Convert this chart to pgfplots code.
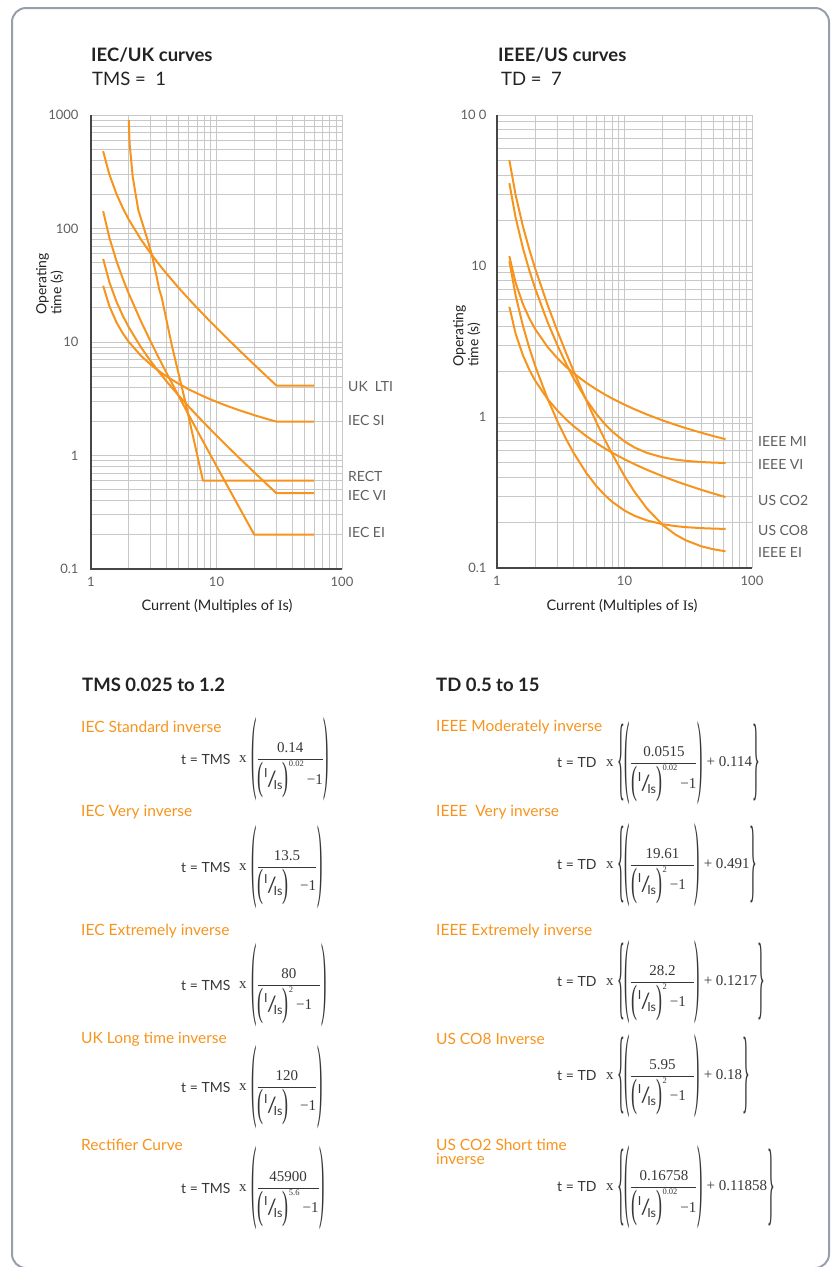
\documentclass[border=0pt]{standalone}
\usepackage{amsmath}
\usepackage{graphicx}
\usepackage{fontspec}
\setmainfont{Lato}
\newfontfamily\tnr{Liberation Serif}
\usepackage{pgfplots}
\pgfplotsset{compat=1.18}

\definecolor{ora}{RGB}{247,148,30}
\definecolor{framec}{RGB}{150,160,172}
\definecolor{gridc}{RGB}{200,200,200}
\definecolor{axisc}{RGB}{70,70,70}
\definecolor{tickc}{RGB}{95,95,95}
\definecolor{darkt}{RGB}{35,35,35}
\definecolor{fc}{RGB}{55,55,55}

\tikzset{crv/.style={draw=ora, line width=2pt, line join=round, mark=none}}

\newcommand{\fs}[1]{\fontsize{#1}{#1}\selectfont}
\newcommand{\lp}[1]{\vcenter{\hbox{\scalebox{1}[#1]{\tnr\fs{16}(}}}}
\newcommand{\rp}[1]{\vcenter{\hbox{\scalebox{1}[#1]{\tnr\fs{16})}}}}
\newcommand{\lpi}{\vcenter{\hbox{\scalebox{1}[2.2]{\tnr\fs{18}(}}}}
\newcommand{\rpi}{\vcenter{\hbox{\scalebox{1}[2.2]{\tnr\fs{18})}}}}
\newcommand{\lb}[1]{\vcenter{\hbox{\scalebox{1}[#1]{\tnr\fs{16}\{}}}}
\newcommand{\rb}[1]{\vcenter{\hbox{\scalebox{1}[#1]{\tnr\fs{16}\}}}}}
\newcommand{\IIs}{\text{\fs{12.5}\kern0.5pt\raisebox{7pt}{I}\kern-0.5pt\raisebox{-2pt}{\fs{21}/}\kern-3pt\raisebox{-5pt}{Is}\kern0.5pt}}
\newcommand{\den}[1]{\lpi\IIs{\rpi}^{\text{\tnr\fs{8.5}#1}}\text{\tnr\fs{15}\,−1}}
\newcommand{\denz}{\lpi\IIs\rpi\text{\tnr\fs{15}\ \ \ −1}}
\newcommand{\F}[2]{\dfrac{\text{\tnr\fs{15}#1}}{#2}}
\newcommand{\OP}[1]{\lp{5.8}#1\rp{5.8}}
\newcommand{\BR}[2]{\lb{5.8}\OP{#1}\text{\tnr\fs{15}\ + #2}\rb{5.8}}

\begin{document}
\begin{tikzpicture}
\useasboundingbox (0pt,0pt) rectangle (834pt,-1267pt);
\draw[framec, line width=2pt, rounded corners=14pt] (12pt,-8pt) rectangle (829pt,-1268pt);

% ---------- titles ----------
\node[anchor=west, inner sep=0, text=darkt, font=\fs{18.5}\bfseries] at (91pt,-55pt) {IEC/UK curves};
\node[anchor=west, inner sep=0, text=darkt, font=\fs{18.5}] at (92pt,-79pt) {TMS =\ \ 1};
\node[anchor=west, inner sep=0, text=darkt, font=\fs{18.5}\bfseries] at (498pt,-55pt) {IEEE/US curves};
\node[anchor=west, inner sep=0, text=darkt, font=\fs{18.5}] at (501pt,-79pt) {TD =\ \ 7};

% ---------- left chart ----------
\begin{loglogaxis}[name=L, at={(91pt,-569pt)}, anchor=south west,
  scale only axis, width=251pt, height=454pt,
  xmin=1, xmax=100, ymin=0.1, ymax=1000,
  axis line style={draw=none},
  grid=both,
  major grid style={draw=gridc, line width=0.9pt},
  minor grid style={draw=gridc, line width=0.9pt},
  tick style={draw=none},
  xtick={1,10,100}, xticklabels={1,10,100},
  minor xtick={2,3,4,5,6,7,8,9,20,30,40,50,60,70,80,90},
  ytick={0.1,1,10,100,1000}, yticklabels={0.1,1,10,100,1000},
  minor ytick={0.2,0.3,0.4,0.5,0.6,0.7,0.8,0.9,2,3,4,5,6,7,8,9,20,30,40,50,60,70,80,90,200,300,400,500,600,700,800,900},
  ticklabel style={font=\fs{13}, text=tickc},
  yticklabel style={xshift=-9pt}, xticklabel style={yshift=-5pt}]
% UK LTI
\addplot[crv] coordinates {(1.25,480) (1.4,300) (1.6,200) (1.8,150) (2,120) (2.5,80) (3,60) (3.5,48) (4,40) (5,30) (6,24) (7,20) (8,17.14) (10,13.33) (12,10.91) (15,8.571) (20,6.316) (25,5) (30,4.138) (60,4.138)};
% IEC SI
\addplot[crv] coordinates {(1.25,31.30) (1.4,20.73) (1.6,14.82) (1.8,11.84) (2,10.03) (2.5,7.570) (3,6.302) (3.5,5.518) (4,4.980) (5,4.280) (6,3.837) (7,3.528) (8,3.297) (10,2.971) (12,2.748) (15,2.516) (20,2.267) (25,2.105) (30,1.989) (60,1.989)};
% IEC VI
\addplot[crv] coordinates {(1.25,54) (1.4,33.75) (1.6,22.5) (1.8,16.875) (2,13.5) (2.5,9) (3,6.75) (3.5,5.4) (4,4.5) (5,3.375) (6,2.7) (7,2.25) (8,1.929) (10,1.5) (12,1.227) (15,0.964) (20,0.7105) (25,0.5625) (30,0.4655) (60,0.4655)};
% IEC EI
\addplot[crv] coordinates {(1.25,142.2) (1.4,83.33) (1.6,51.28) (1.8,35.71) (2,26.67) (2.5,15.24) (3,10) (3.5,7.111) (4,5.333) (5,3.333) (6,2.286) (7,1.667) (8,1.270) (10,0.8081) (12,0.5594) (15,0.3571) (20,0.2005) (60,0.2005)};
% RECT
\addplot[crv] coordinates {(2,900) (2.03,560) (2.15,286) (2.38,146) (2.77,85) (3.04,60) (3.33,38) (3.5,29) (3.65,25) (4.43,9.1) (5.6,3.08) (7.8,0.6) (60,0.6)};
\end{loglogaxis}
\draw[axisc, line width=1.5pt] (L.north west) -- (L.south west) -- (L.south east);

% ---------- right chart ----------
\begin{loglogaxis}[name=R, at={(497pt,-568pt)}, anchor=south west,
  scale only axis, width=255pt, height=453pt,
  xmin=1, xmax=100, ymin=0.1, ymax=100,
  axis line style={draw=none},
  grid=both,
  major grid style={draw=gridc, line width=0.9pt},
  minor grid style={draw=gridc, line width=0.9pt},
  tick style={draw=none},
  xtick={1,10,100}, xticklabels={1,10,100},
  minor xtick={2,3,4,5,6,7,8,9,20,30,40,50,60,70,80,90},
  ytick={0.1,1,10,100}, yticklabels={0.1,1,10,10\ 0},
  minor ytick={0.2,0.3,0.4,0.5,0.6,0.7,0.8,0.9,2,3,4,5,6,7,8,9,20,30,40,50,60,70,80,90},
  ticklabel style={font=\fs{13}, text=tickc},
  yticklabel style={xshift=-7pt}, xticklabel style={yshift=-5pt}]
% IEEE MI
\addplot[crv] coordinates {(1.25,11.63) (1.4,7.741) (1.6,5.567) (1.8,4.469) (2,3.803) (2.5,2.899) (3,2.432) (3.5,2.144) (4,1.946) (5,1.688) (6,1.526) (7,1.412) (8,1.327) (10,1.207) (12,1.125) (15,1.039) (20,0.948) (25,0.889) (30,0.846) (40,0.787) (50,0.747) (62,0.713)};
% IEEE VI
\addplot[crv] coordinates {(1.25,35.35) (1.4,20.92) (1.6,13.06) (1.8,9.245) (2,7.028) (2.5,4.226) (3,2.942) (3.5,2.234) (4,1.798) (5,1.308) (6,1.051) (7,0.8995) (8,0.8023) (10,0.6891) (12,0.6281) (15,0.5785) (20,0.5402) (25,0.5224) (30,0.5128) (40,0.5033) (50,0.4989) (62,0.4961)};
% IEEE EI
\addplot[crv] coordinates {(1.25,50.25) (1.4,29.50) (1.6,18.20) (1.8,12.71) (2,9.522) (2.5,5.493) (3,3.647) (3.5,2.628) (4,2.002) (5,1.297) (6,0.9274) (7,0.7092) (8,0.5693) (10,0.4065) (12,0.3189) (15,0.2476) (20,0.1924) (25,0.1669) (30,0.1531) (40,0.1393) (50,0.1330) (62,0.1290)};
% US CO8
\addplot[crv] coordinates {(1.25,10.76) (1.4,6.378) (1.6,3.994) (1.8,2.836) (2,2.163) (2.5,1.313) (3,0.9238) (3.5,0.7089) (4,0.5767) (5,0.4279) (6,0.35) (7,0.304) (8,0.2744) (10,0.2401) (12,0.2216) (15,0.2066) (20,0.1949) (25,0.1895) (30,0.1866) (40,0.1837) (50,0.1824) (62,0.1815)};
% US CO2
\addplot[crv] coordinates {(1.25,5.369) (1.4,3.5625) (1.6,2.5517) (1.8,2.0414) (2,1.7319) (2.5,1.3113) (3,1.0945) (3.5,0.9605) (4,0.8684) (5,0.7487) (6,0.6731) (7,0.6201) (8,0.5806) (10,0.5249) (12,0.4867) (15,0.4471) (20,0.4046) (25,0.3769) (30,0.3570) (40,0.3296) (50,0.3111) (62,0.2951)};
\end{loglogaxis}
\draw[axisc, line width=1.5pt] (R.north west) -- (R.south west) -- (R.south east);

% ---------- axis labels ----------
\node[rotate=90, anchor=north west, inner sep=0, align=left, text=darkt, font=\fontsize{14}{15}\selectfont] at (36pt,-315pt) {Operating\\time (s)};
\node[rotate=90, anchor=north west, inner sep=0, align=left, text=darkt, font=\fontsize{14}{15}\selectfont] at (453pt,-367pt) {Operating\\time (s)};
\node[inner sep=0, text=darkt, font=\fs{14.5}] at (217pt,-606pt) {Current (Multiples of {\tnr I}s)};
\node[inner sep=0, text=darkt, font=\fs{14.5}] at (622pt,-606pt) {Current (Multiples of {\tnr I}s)};

% ---------- curve labels ----------
\begin{scope}[every node/.style={anchor=west, inner sep=0, text=tickc, font=\fs{14}}]
\node at (348pt,-386.7pt) {UK\ \ LTI};
\node at (348pt,-420.7pt) {IEC SI};
\node at (348pt,-476.7pt) {RECT};
\node at (348pt,-495pt) {IEC VI};
\node at (348pt,-532.3pt) {IEC EI};
\node at (758pt,-441.7pt) {IEEE MI};
\node at (758pt,-464pt) {IEEE VI};
\node at (758pt,-500pt) {US CO2};
\node at (758pt,-530pt) {US CO8};
\node at (758pt,-552.3pt) {IEEE EI};
\end{scope}

% ---------- formula section ----------
\node[anchor=west, inner sep=0, text=darkt, font=\fs{18.5}\bfseries] at (82pt,-685pt) {TMS 0.025 to 1.2};
\node[anchor=west, inner sep=0, text=darkt, font=\fs{18.5}\bfseries] at (436pt,-685pt) {TD 0.5 to 15};

\begin{scope}[every node/.style={anchor=west, inner sep=0, text=ora, font=\fs{15.5}}]
\node at (81pt,-727pt) {IEC Standard inverse};
\node at (81pt,-811.7pt) {IEC Very inverse};
\node at (81pt,-931pt) {IEC Extremely inverse};
\node at (81pt,-1039pt) {UK Long time inverse};
\node at (81pt,-1145pt) {Rectifier Curve};
\node at (436pt,-727pt) {IEEE Moderately inverse};
\node at (436pt,-811.7pt) {IEEE\ \ Very inverse};
\node at (436pt,-931pt) {IEEE Extremely inverse};
\node at (436pt,-1039pt) {US CO8 Inverse};
\node[align=left, font=\fontsize{15.5}{14.5}\selectfont] at (436pt,-1152pt) {US CO2 Short time\\inverse};
\end{scope}

% left formulas
\foreach \yy in {759,867,985,1087,1188} {
  \node[anchor=west, inner sep=0, text=fc, font=\fs{14}] at (181pt,-\yy pt) {t = TMS};
  \node[anchor=west, inner sep=0, text=fc, font=\tnr\fs{15}] at (239pt,-\yy pt) {x};
}
\node[anchor=west, inner sep=0, text=fc] at (251pt,-759pt) {\fs{15}$\OP{\F{0.14}{\den{0.02}}}$};
\node[anchor=west, inner sep=0, text=fc] at (251pt,-867pt) {\fs{15}$\OP{\F{13.5}{\denz}}$};
\node[anchor=west, inner sep=0, text=fc] at (251pt,-985pt) {\fs{15}$\OP{\F{80}{\den{2}\ \ }}$};
\node[anchor=west, inner sep=0, text=fc] at (251pt,-1087pt) {\fs{15}$\OP{\F{120}{\denz}}$};
\node[anchor=west, inner sep=0, text=fc] at (251pt,-1188pt) {\fs{15}$\OP{\F{45900}{\den{5.6}}}$};

% right formulas
\foreach \yy in {763,865,982,1076,1187} {
  \node[anchor=west, inner sep=0, text=fc, font=\fs{14}] at (557pt,-\yy pt) {t = TD};
  \node[anchor=west, inner sep=0, text=fc, font=\tnr\fs{15}] at (606pt,-\yy pt) {x};
}
\node[anchor=west, inner sep=0, text=fc] at (617pt,-763pt) {\fs{15}$\BR{\F{0.0515}{\den{0.02}}}{0.114}$};
\node[anchor=west, inner sep=0, text=fc] at (617pt,-865pt) {\fs{15}$\BR{\F{19.61}{\den{2}\ \ }}{0.491}$};
\node[anchor=west, inner sep=0, text=fc] at (617pt,-982pt) {\fs{15}$\BR{\F{28.2}{\den{2}\ \ }}{0.1217}$};
\node[anchor=west, inner sep=0, text=fc] at (617pt,-1076pt) {\fs{15}$\BR{\F{5.95}{\den{2}\ \ }}{0.18}$};
\node[anchor=west, inner sep=0, text=fc] at (617pt,-1187pt) {\fs{15}$\BR{\F{0.16758}{\den{0.02}}}{0.11858}$};
\end{tikzpicture}
\end{document}
